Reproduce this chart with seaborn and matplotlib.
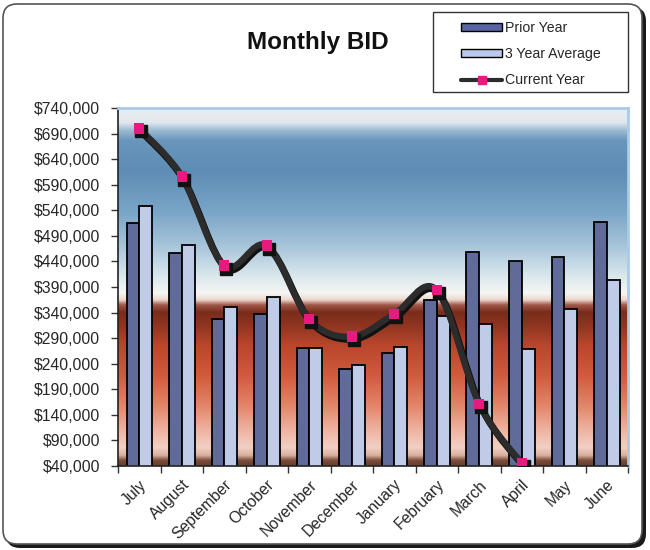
import numpy as np
import pandas as pd
import matplotlib
matplotlib.use("Agg")
import matplotlib.pyplot as plt
import seaborn as sns
from matplotlib.path import Path
from matplotlib.patches import PathPatch, Rectangle, FancyBboxPatch, Patch
from matplotlib.lines import Line2D
from matplotlib.colors import LinearSegmentedColormap
from matplotlib.ticker import FuncFormatter, FixedLocator
import matplotlib.transforms as mtransforms

# ---------------- data ----------------
months = ["July", "August", "September", "October", "November", "December",
          "January", "February", "March", "April", "May", "June"]
prior_year = [515000, 456000, 328000, 337000, 270000, 229000,
              260000, 364000, 458000, 441000, 449000, 518000]
three_year_avg = [548000, 473000, 350000, 370000, 270000, 237000,
                  272000, 333000, 317000, 269000, 347000, 404000]
current_year = [700000, 606000, 432000, 471000, 327000, 293000,
                337000, 384000, 161000, 45000]
series_names = ["Prior Year", "3 Year Average", "Current Year"]
y_ticks = list(range(40000, 740001, 50000))
title = "Monthly BID"

# ---------------- style ----------------
sns.set_style("white")
plt.rcParams["font.family"] = ["Liberation Sans", "DejaVu Sans"]

W, H = 650, 550
fig = plt.figure(figsize=(W / 100, H / 100), dpi=100)
fig.patch.set_facecolor("white")

# figure rounded border with shadow (pixel coords)
px = mtransforms.IdentityTransform()
shadow = FancyBboxPatch((6, 2), 640, 541, boxstyle="round,pad=0,rounding_size=14",
                        transform=px, facecolor="#1a1a1a", edgecolor="none", zorder=-10)
border = FancyBboxPatch((3, 6), 639, 540, boxstyle="round,pad=0,rounding_size=14",
                        transform=px, facecolor="white", edgecolor="#555555",
                        linewidth=1.2, zorder=-9)
fig.patches.extend([shadow, border])

ax_l, ax_r, ax_t, ax_b = 118, 628, 108, 466
ax = fig.add_axes([ax_l / W, 1 - ax_b / H, (ax_r - ax_l) / W, (ax_b - ax_t) / H])

# gradient background of the plot area
stops = [
    (0.000, "#6a4030"), (0.014, "#7a4a38"), (0.028, "#d8b0a0"), (0.050, "#f2d0c4"),
    (0.101, "#eeb2a0"), (0.170, "#e28468"), (0.254, "#d05a3c"), (0.338, "#b8462c"),
    (0.394, "#8e3420"), (0.430, "#7a2c1c"), (0.450, "#a0584a"), (0.464, "#ecd8cc"),
    (0.483, "#f6f6f4"), (0.534, "#d8e6ec"), (0.617, "#a6c4da"), (0.715, "#78a4c6"),
    (0.827, "#5e8cb4"), (0.911, "#6a96bc"), (0.939, "#9bbad2"), (0.961, "#e0e8ee"),
    (1.000, "#e8eef2"),
]
cmap = LinearSegmentedColormap.from_list("bg", stops)
grad = np.linspace(0, 1, 512).reshape(-1, 1)
ax.imshow(grad, cmap=cmap, aspect="auto", extent=[0, 1, 0, 1], origin="lower",
          transform=ax.transAxes, zorder=0, interpolation="bicubic")

# bars via seaborn
df = pd.DataFrame({
    "Month": months * 2,
    "Value": prior_year + three_year_avg,
    "Series": [series_names[0]] * len(months) + [series_names[1]] * len(months),
})
bar_colors = ["#5865a3", "#b9c8ee"]
sns.barplot(data=df, x="Month", y="Value", hue="Series", palette=bar_colors,
            width=0.6, edgecolor="black", linewidth=1.3, ax=ax, legend=False,
            zorder=2)

# smoothed current-year line (Catmull-Rom bezier through the data points)
cx = np.arange(len(current_year), dtype=float)
cy = np.array(current_year, dtype=float)
pts = np.column_stack([cx, cy])
ext = np.vstack([pts[0], pts, pts[-1]])
verts = [tuple(pts[0])]
codes = [Path.MOVETO]
for i in range(len(pts) - 1):
    p0, p1, p2, p3 = ext[i], ext[i + 1], ext[i + 2], ext[i + 3]
    c1 = p1 + (p2 - p0) / 6.0
    c2 = p2 - (p3 - p1) / 6.0
    verts += [tuple(c1), tuple(c2), tuple(p2)]
    codes += [Path.CURVE4] * 3
path = Path(verts, codes)
line_shadow = PathPatch(path, facecolor="none", edgecolor="#111111", linewidth=5,
                        zorder=4, transform=mtransforms.offset_copy(
                            ax.transData, fig=fig, x=1.5, y=-2.5, units="dots"))
ax.add_patch(line_shadow)
curve = PathPatch(path, facecolor="none", edgecolor="#2c2c2c", linewidth=4.5,
                  zorder=5, capstyle="round", joinstyle="round")
ax.add_patch(curve)
# markers
ax.plot(cx, cy, linestyle="none", marker="s", markersize=8, color="#111111",
        zorder=6, transform=mtransforms.offset_copy(ax.transData, fig=fig, x=2, y=-3,
                                                    units="dots"))
sns.scatterplot(x=cx, y=cy, marker="s", s=55, color="#e8197f", edgecolor="none",
                ax=ax, zorder=7, legend=False)

# axes settings
ax.set_ylim(40000, 740000)
ax.set_xlim(-0.5, len(months) - 0.5)
ax.yaxis.set_major_locator(FixedLocator(y_ticks))
ax.yaxis.set_major_formatter(FuncFormatter(lambda v, p: f"${v:,.0f}"))
ax.tick_params(axis="y", which="major", direction="out", length=5, width=1,
               color="#333333", pad=8, labelsize=11.3, left=True)
ax.set_xticks(np.arange(-0.5, len(months), 1.0))
ax.set_xticklabels([""] * (len(months) + 1))
ax.set_xticks(np.arange(len(months)), minor=True)
ax.set_xticklabels(months, minor=True, rotation=45, ha="right",
                   rotation_mode="anchor", fontsize=11.3)
ax.tick_params(axis="x", which="major", direction="out", length=5, width=1,
               color="#333333", bottom=True)
ax.tick_params(axis="x", which="minor", length=0, pad=8)
ax.set_xlabel("")
ax.set_ylabel("")
ax.grid(False)
for side in ["left", "bottom"]:
    ax.spines[side].set_color("#222222")
    ax.spines[side].set_linewidth(1.2)
for side in ["top", "right"]:
    ax.spines[side].set_color("#a9cbe8")
    ax.spines[side].set_linewidth(2)
    ax.spines[side].set_visible(True)

# title
fig.text(318 / W, 1 - 43 / H, title, ha="center", va="center", fontsize=17.5,
         fontweight="bold", color="#111111")

# legend with separate square frame
fig.patches.append(Rectangle((433, H - 92), 195, 80, transform=px, facecolor="white",
                             edgecolor="#333333", linewidth=1.0, zorder=1))
handles = [
    Patch(facecolor=bar_colors[0], edgecolor="black", linewidth=1.0),
    Patch(facecolor=bar_colors[1], edgecolor="black", linewidth=1.0),
    Line2D([0], [0], color="#2c2c2c", linewidth=3, marker="s", markersize=6,
           markerfacecolor="#e8197f", markeredgecolor="#e8197f"),
]
leg = fig.legend(handles, series_names, loc="center",
                 bbox_to_anchor=(531 / W, 1 - 54 / H), frameon=False, fontsize=10.2,
                 handlelength=2.9, handleheight=0.5, handletextpad=0.2,
                 labelspacing=0.87, numpoints=1)
leg.set_zorder(5)

fig.savefig("out.png", dpi=100, facecolor=fig.get_facecolor())
